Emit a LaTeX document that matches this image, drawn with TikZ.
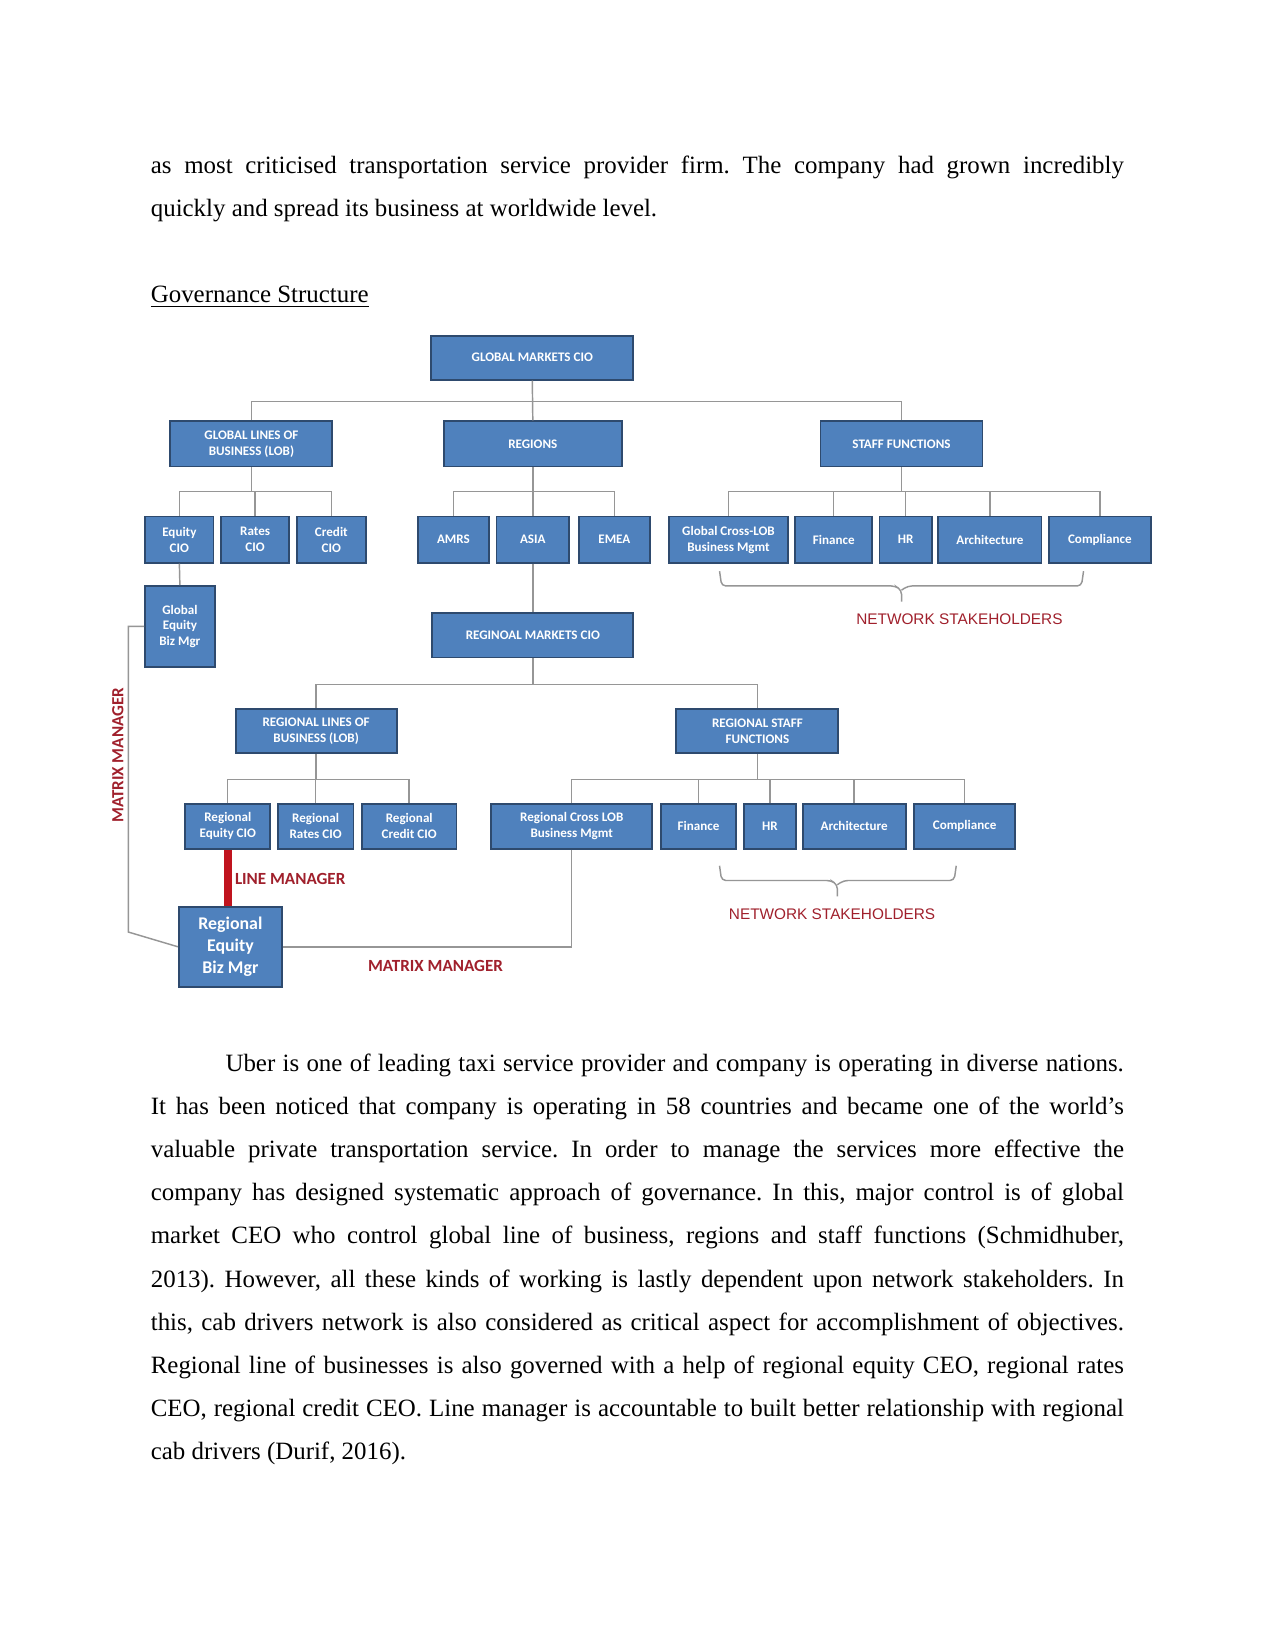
\documentclass[tikz,border=0pt]{standalone}
\usepackage{fontspec}
\setmainfont{Liberation Serif}
\newfontfamily\calibri{Carlito}
\newfontfamily\arialfont{Liberation Sans}
\usetikzlibrary{positioning}
\frenchspacing

\definecolor{boxblue}{RGB}{79,129,189}
\definecolor{boxedge}{RGB}{46,74,110}
\definecolor{conngray}{RGB}{150,150,150}
\definecolor{labelred}{RGB}{160,32,44}
\definecolor{barred}{RGB}{192,20,30}

\begin{document}
\begin{tikzpicture}[
    x=0.50495bp, y=-0.50495bp,
    box/.style={rectangle, draw=boxedge, fill=boxblue, line width=0.9pt,
                text=white, align=center, inner sep=1pt,
                font=\calibri\bfseries\fontsize{6.3}{7.6}\selectfont},
    dims/.style 2 args={minimum width=#1*0.50495bp, minimum height=#2*0.50495bp},
    bigbox/.style={box, font=\calibri\bfseries\fontsize{8.6}{10.8}\selectfont},
    conn/.style={draw=conngray, line width=0.7pt},
    linebar/.style={draw=barred, line width=4pt},
    brace/.style={draw=conngray, line width=0.7pt, rounded corners=2pt},
    redlabel/.style={text=labelred, inner sep=0pt,
                     font=\calibri\bfseries\fontsize{8.2}{9}\selectfont},
    stakelabel/.style={text=labelred, inner sep=0pt,
                       font=\arialfont\fontsize{7.4}{9}\selectfont},
    bodyline/.style={anchor=base west, inner sep=0pt, font=\fontsize{12}{14}\selectfont}
  ]

    % Page
    \useasboundingbox (0,0) rectangle (1212,1568.5);
    \fill[white] (0,0) rectangle (1212,1568.5);

    % Text above the chart
    \node[bodyline] (intro1) at (143,165) {\makebox[467.1bp][s]{as most criticised transportation service provider firm. The company had grown incredibly}};
    \node[bodyline] (intro2) at (143,206) {quickly and spread its business at worldwide level.};
    \node[bodyline] (heading) at (143,288) {\underline{Governance Structure}};

    % Global level
    \node[box, dims={192}{42}] (gmcio) at (506,340) {GLOBAL MARKETS CIO};
    \node[box, dims={154}{43}] (glob) at (239,422) {GLOBAL LINES OF\\BUSINESS (LOB)};
    \node[box, dims={169}{43}] (regions) at (506.5,422) {REGIONS};
    \node[box, dims={154}{43}] (staff) at (857,422) {STAFF FUNCTIONS};

    % Global children
    \node[box, dims={65}{44}] (eqcio) at (170.5,513) {Equity\\CIO};
    \node[box, dims={65}{44}] (ratescio) at (242.5,513) {Rates\\CIO};
    \node[box, dims={66}{44}] (creditcio) at (315,513) {Credit\\CIO};
    \node[box, dims={68}{44}] (amrs) at (431,513) {AMRS};
    \node[box, dims={69}{44}] (asia) at (506.5,513) {ASIA};
    \node[box, dims={68}{44}] (emea) at (584,513) {EMEA};
    \node[box, dims={113}{44}] (gcross) at (692.5,513) {Global Cross-LOB\\Business Mgmt};
    \node[box, dims={73}{44}] (fin) at (792.5,513) {Finance};
    \node[box, dims={50}{44}] (hr) at (861,513) {HR};
    \node[box, dims={98}{44}] (arch) at (941,513) {Architecture};
    \node[box, dims={97}{44}] (comp) at (1045.5,513) {Compliance};
    \node[box, dims={66}{77}] (gebm) at (171,595.5) {Global\\Equity\\Biz Mgr};

    % Regional level
    \node[box, dims={191}{42}] (rmcio) at (506.5,604) {REGINOAL MARKETS CIO};
    \node[box, dims={153}{42}] (rlob) at (300.5,695) {REGIONAL LINES OF\\BUSINESS (LOB)};
    \node[box, dims={154}{42}] (rstaff) at (720,695) {REGIONAL STAFF\\FUNCTIONS};

    % Regional children
    \node[box, dims={81}{43}] (reqcio) at (216.5,785.5) {Regional\\Equity CIO};
    \node[box, dims={72}{43}] (rratescio) at (300,785.5) {Regional\\Rates CIO};
    \node[box, dims={90}{43}] (rcreditcio) at (389,785.5) {Regional\\Credit CIO};
    \node[box, dims={153}{43}] (rcross) at (543.5,785.5) {Regional Cross LOB\\Business Mgmt};
    \node[box, dims={72}{43}] (rfin) at (664,785.5) {Finance};
    \node[box, dims={50}{43}] (rhr) at (732,785.5) {HR};
    \node[box, dims={98}{43}] (rarch) at (812,785.5) {Architecture};
    \node[box, dims={96}{43}] (rcomp) at (917,785.5) {Compliance};
    \node[bigbox, dims={98}{76}] (rebm) at (219,900) {Regional\\Equity\\Biz Mgr};

    % Connectors, global
    \draw[conn] (gmcio.south) -- ++(0,20) -| (glob.north);
    \draw[conn] (gmcio.south) -- (regions.north);
    \draw[conn] (gmcio.south) -- ++(0,20) -| (staff.north);

    \draw[conn] (glob.south) -- ++(0,23) -| (eqcio.north);
    \draw[conn] (glob.south) -- ++(0,23) -| (ratescio.north);
    \draw[conn] (glob.south) -- ++(0,23) -| (creditcio.north);

    \draw[conn] (regions.south) -- ++(0,23) -| (amrs.north);
    \draw[conn] (regions.south) -- (asia.north);
    \draw[conn] (regions.south) -- ++(0,23) -| (emea.north);

    \draw[conn] (staff.south) -- ++(0,23) -| (gcross.north);
    \draw[conn] (staff.south) -- ++(0,23) -| (fin.north);
    \draw[conn] (staff.south) -- ++(0,23) -| (hr.north);
    \draw[conn] (staff.south) -- ++(0,23) -| (arch.north);
    \draw[conn] (staff.south) -- ++(0,23) -| (comp.north);

    \draw[conn] (eqcio.south) -- (gebm.north);
    \draw[conn] (asia.south) -- (rmcio.north);

    % Connectors, regional
    \draw[conn] (rmcio.south) -- ++(0,25) -| (rlob.north);
    \draw[conn] (rmcio.south) -- ++(0,25) -| (rstaff.north);

    \draw[conn] (rlob.south) -- ++(0,24) -| (reqcio.north);
    \draw[conn] (rlob.south) -- ++(0,24) -| (rratescio.north);
    \draw[conn] (rlob.south) -- ++(0,24) -| (rcreditcio.north);

    \draw[conn] (rstaff.south) -- ++(0,24) -| (rcross.north);
    \draw[conn] (rstaff.south) -- ++(0,24) -| (rfin.north);
    \draw[conn] (rstaff.south) -- ++(0,24) -| (rhr.north);
    \draw[conn] (rstaff.south) -- ++(0,24) -| (rarch.north);
    \draw[conn] (rstaff.south) -- ++(0,24) -| (rcomp.north);

    % Line and matrix managers
    \draw[linebar] (reqcio.south) -- (reqcio.south |- rebm.north);
    \coordinate (mbot) at (122,886);
    \draw[conn] (gebm.west) -| (mbot) -- (rebm.west);
    \draw[conn] (rcross.south) |- (rebm.east);

    % Braces for network stakeholders
    \draw[brace] (684,543) -- (686,557) -- (851,557) -- (857,561) -- (857,572);
    \draw[brace] (1030,543) -- (1028,557) -- (863,557) -- (857,561);
    \draw[brace] (684,823) -- (686,837) -- (790,837) -- (796,841) -- (796,852);
    \draw[brace] (909,823) -- (907,837) -- (802,837) -- (796,841);

    % Red labels
    \node[stakelabel] (netstake1) at (912,589) {NETWORK STAKEHOLDERS};
    \node[stakelabel] (netstake2) at (791,869) {NETWORK STAKEHOLDERS};
    \node[redlabel, anchor=west] (linemgr) at (223,836) {LINE MANAGER};
    \node[redlabel] (matrixlow) at (414,918) {MATRIX MANAGER};
    \node[redlabel, rotate=90] (matrixside) at (112,718) {MATRIX MANAGER};

    % Text below the chart
    \node[bodyline] (body1) at (214,1018.5) {\makebox[431.2bp][s]{Uber is one of leading taxi service provider and company is operating in diverse nations.}};
    \node[bodyline] (body2) at (143,1059.5) {\makebox[467.1bp][s]{It has been noticed that company is operating in 58 countries and became one of the world’s}};
    \node[bodyline] (body3) at (143,1100.5) {\makebox[467.1bp][s]{valuable private transportation service. In order to manage the services more effective the}};
    \node[bodyline] (body4) at (143,1141.5) {\makebox[467.1bp][s]{company has designed systematic approach of governance. In this, major control is of global}};
    \node[bodyline] (body5) at (143,1182.5) {\makebox[467.1bp][s]{market CEO who control global line of business, regions and staff functions (Schmidhuber,}};
    \node[bodyline] (body6) at (143,1223.5) {\makebox[467.1bp][s]{2013). However, all these kinds of working is lastly dependent upon network stakeholders. In}};
    \node[bodyline] (body7) at (143,1264.5) {\makebox[467.1bp][s]{this, cab drivers network is also considered as critical aspect for accomplishment of objectives.}};
    \node[bodyline] (body8) at (143,1305.5) {\makebox[467.1bp][s]{Regional line of businesses is also governed with a help of regional equity CEO, regional rates}};
    \node[bodyline] (body9) at (143,1346.5) {\makebox[467.1bp][s]{CEO, regional credit CEO. Line manager is accountable to built better relationship with regional}};
    \node[bodyline] (body10) at (143,1387.5) {cab drivers (Durif, 2016).};

  \end{tikzpicture}
\end{document}
